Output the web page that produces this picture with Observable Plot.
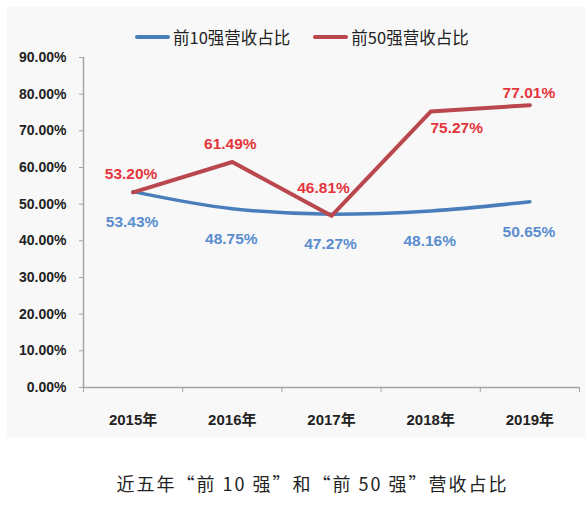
<!DOCTYPE html>
<html>
<head>
<meta charset="utf-8">
<script src="https://cdn.jsdelivr.net/npm/d3@7"></script>
<script src="https://cdn.jsdelivr.net/npm/@observablehq/plot@0.6"></script>
<style>
  body { margin: 0; background: #fff; }
  #wrap {
    position: relative; width: 587px; height: 505px; overflow: hidden;
    font-family: "Liberation Sans", Arial, "Noto Sans CJK SC", sans-serif;
  }
  #bg { position: absolute; left: 7px; top: 7px; width: 578px; height: 431px; background: #f8f8f8; }
  #legend {
    position: relative; box-sizing: border-box; height: 48px; padding: 26px 0 0 135px;
    display: flex; align-items: center; font-family: "Noto Sans CJK SC", sans-serif;
    font-size: 16.5px; color: #222; line-height: 22px;
  }
  #legend .sw { display: inline-block; width: 35px; height: 4px; border-radius: 2px; margin-right: 3px; }
  #legend .item { display: flex; align-items: center; margin-right: 23px; }
  #chart { position: relative; }
  #caption {
    position: relative; padding: 33px 0 0 38px; text-align: center; line-height: 24px;
    font-family: "Noto Sans CJK SC", sans-serif; font-size: 18px; letter-spacing: 2px; color: #222;
  }
</style>
</head>
<body>
<div id="wrap">
  <div id="bg"></div>
  <div id="legend"></div>
  <div id="chart"></div>
  <div id="caption">近五年“前 10 强”和“前 50 强”营收占比</div>
</div>
<script>
// 数据：近五年前10强、前50强营收占比（%）
const years = ["2015", "2016", "2017", "2018", "2019"];
const top10 = [53.43, 48.75, 47.27, 48.16, 50.65];
const top50 = [53.20, 61.49, 46.81, 75.27, 77.01];
const yTicks = [0, 10, 20, 30, 40, 50, 60, 70, 80, 90];
const seriesNames = ["前10强营收占比", "前50强营收占比"];

const blueLine = "#4a7ebb";
const redLine = "#b9474d";
const blueText = "#5a8dd0";
const redText = "#e5353b";
const axisGray = "#a3a3a3";

const rows = years.map((year, i) => ({ i, year, top10: top10[i], top50: top50[i] }));
const pct = v => v.toFixed(2) + "%";

// 图例
const legend = d3.select("#legend");
[blueLine, redLine].forEach((c, k) => {
  const item = legend.append("span").attr("class", "item");
  item.append("span").attr("class", "sw").style("background", c);
  item.append("span").text(seriesNames[k]);
});

const labelStyle = { fontSize: 15.5, fontWeight: "bold", fontFamily: "Liberation Sans, Arial, sans-serif" };
const redAt = (ys, opts) => Plot.text(rows, {
  filter: d => ys.includes(d.year), x: "i", y: "top50", text: d => pct(d.top50), fill: redText, ...labelStyle, ...opts
});

const chart = Plot.plot({
  width: 587,
  height: 390,
  marginTop: 9,
  marginBottom: 51,
  marginLeft: 83,
  marginRight: 8,
  style: { background: "transparent", overflow: "visible", fontFamily: "Liberation Sans, Arial, Noto Sans CJK SC, sans-serif" },
  x: { domain: [-0.5, years.length - 0.5], axis: null },
  y: { domain: [0, 90], axis: null },
  marks: [
    Plot.axisY(yTicks, {
      tickFormat: pct, tickSize: 4, tickPadding: 13, fontSize: 14, fontWeight: "bold",
      stroke: axisGray, fill: "#222", label: null
    }),
    Plot.axisX(d3.range(-0.5, years.length), {
      tickFormat: () => "", tickSize: 5, stroke: axisGray, label: null
    }),
    Plot.axisX(rows.map(d => d.i), {
      tickFormat: i => years[i] + "年", tickSize: 0, tickPadding: 27, fontSize: 15, fontWeight: "bold",
      fill: "#222", label: null
    }),
    Plot.ruleX([-0.5], { stroke: axisGray, strokeWidth: 1.5 }),
    Plot.ruleY([0], { stroke: axisGray, strokeWidth: 1.5 }),
    Plot.line(rows, { x: "i", y: "top10", stroke: blueLine, strokeWidth: 3.5, curve: "monotone-x" }),
    Plot.line(rows, { x: "i", y: "top50", stroke: redLine, strokeWidth: 4 }),
    Plot.text(rows, { x: "i", y: "top10", text: d => pct(d.top10), fill: blueText, dx: -1, dy: 30, ...labelStyle }),
    redAt(["2015", "2016"], { dx: -2, dy: -18 }),
    redAt(["2017"], { dx: -8, dy: -28 }),
    redAt(["2018"], { dx: 26, dy: 17 }),
    redAt(["2019"], { dx: -1, dy: -12 })
  ]
});

d3.select("#chart").append(() => chart);
</script>
</body>
</html>
